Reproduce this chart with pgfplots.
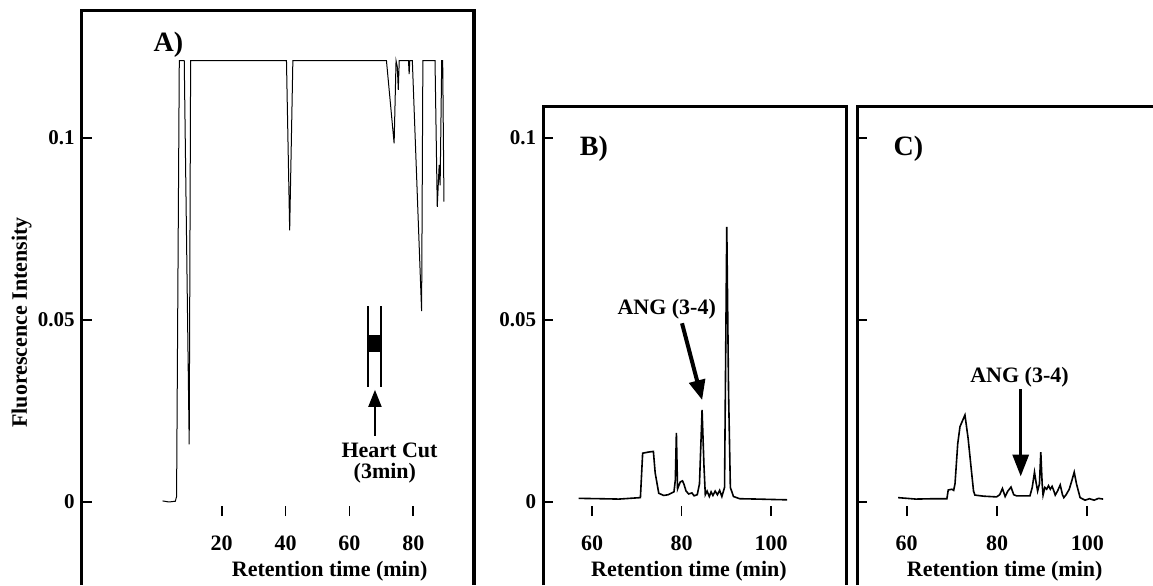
\documentclass[border=0pt]{standalone}
\usepackage{fontspec}
\setmainfont{Liberation Serif}
\usepackage{pgfplots}
\pgfplotsset{compat=1.18}
\usetikzlibrary{arrows.meta}

\tikzset{panelframe/.style={line width=1.65pt, black}}
\pgfplotsset{
  chrom/.style={
    scale only axis,
    anchor=north west,
    clip=false,
    axis line style={draw=none},
    tick align=inside,
    xtick pos=left, ytick pos=left,
    major tick length=5pt,
    ytick style={line width=1.3pt, black},
    xtick style={line width=0.9pt, black},
    ytick={0,0.05,0.1},
    yticklabels={0,0.05,0.1},
    yticklabel style={font=\fontsize{10.5}{12}\selectfont\bfseries},
    xticklabel style={font=\fontsize{11}{13}\selectfont\bfseries, anchor=base, yshift=-17pt},
    xlabel style={font=\fontsize{11}{13}\selectfont\bfseries, anchor=base},
    ylabel style={font=\fontsize{11}{13}\selectfont\bfseries, anchor=center},
    scaled y ticks=false,
    ymin=-0.00385,
  },
}

\begin{document}
\begin{tikzpicture}
\useasboundingbox (0pt,0pt) rectangle (576.5pt,-292.5pt);

% ---------------- Panel A ----------------
\begin{axis}[chrom,
  at={(40.85pt,-5.25pt)},
  width=196.15pt, height=252.75pt,
  xmin=-23.8, xmax=99.0, ymax=0.1350,
  xtick={20,40,60,80}, xticklabels={20,40,60,80},
  xlabel={Retention time (min)},
  xlabel style={at={(rel axis cs:0.632,-0.1187)}},
  ylabel={Fluorescence Intensity},
  ylabel style={at={(rel axis cs:-0.153,0.3828)}},
]
\addplot[line width=0.5pt, black] coordinates {
(1.5,0.0003)(3.5,0.0)(5.5,0.0002)(5.9,0.0015)(6.75,0.1212)(8.3,0.1212)
(9.85,0.0158)(10.3,0.1212)(40.3,0.1212)(41.3,0.0746)(42.3,0.1212)
(71.6,0.1212)(74.0,0.0985)(74.6,0.1212)(75.0,0.1195)(75.3,0.1132)(75.6,0.1212)
(78.5,0.1212)(78.7,0.1175)(78.9,0.1212)(79.7,0.1212)(82.6,0.0524)(83.0,0.1212)
(86.8,0.1212)(87.5,0.0811)(88.1,0.0926)(88.4,0.0870)(88.9,0.1212)(89.2,0.1212)(89.6,0.0825)
};
\draw[panelframe] (rel axis cs:0,-0.1365) -- (rel axis cs:0,1) -- (rel axis cs:1,1) -- (rel axis cs:1,-0.1365);
\node[anchor=base west, inner sep=0pt, font=\fontsize{14}{16}\selectfont\bfseries] at (axis cs:-1.4,0.1237) {A)};
% heart cut marker
\draw[line width=1pt] (axis cs:65.7,0.0316) -- (axis cs:65.7,0.0538);
\draw[line width=1pt] (axis cs:69.9,0.0316) -- (axis cs:69.9,0.0538);
\fill[black] (axis cs:65.7,0.0413) rectangle (axis cs:69.9,0.0459);
\draw[line width=1pt, -{Triangle[width=6.5pt,length=8.5pt]}] (axis cs:68.0,0.0182) -- (axis cs:68.0,0.0308);
\node[anchor=base, inner sep=0pt, font=\fontsize{11}{13}\selectfont\bfseries] at (axis cs:72.55,0.01230) {Heart Cut};
\node[anchor=base, inner sep=0pt, font=\fontsize{11}{13}\selectfont\bfseries] at (axis cs:71.1,0.00640) {(3min)};
\end{axis}

% ---------------- Panel B ----------------
\begin{axis}[chrom,
  at={(271.65pt,-53.35pt)},
  width=151.7pt, height=204.65pt,
  xmin=49.1, xmax=116.9, ymax=0.1086,
  xtick={60,80,100}, xticklabels={60,80,100},
  xlabel={Retention time (min)},
  xlabel style={at={(rel axis cs:0.480,-0.1466)}},
]
\addplot[line width=0.8pt, black] coordinates {
(57.0,0.0010)(62,0.0009)(66,0.0008)(70.8,0.0012)(71.3,0.0134)(72.5,0.0137)(73.7,0.0139)
(74.1,0.0080)(74.9,0.0024)(76,0.0018)(77.0,0.0020)(78.3,0.0028)(78.6,0.0060)(78.84,0.0190)
(79.1,0.0036)(79.7,0.0055)(80.2,0.0058)(80.5,0.0050)(81.0,0.0030)(81.6,0.0022)(82.3,0.0025)
(82.8,0.0017)(83.5,0.0020)(84.0,0.0050)(84.58,0.0253)(85.0,0.0100)(85.3,0.0020)(85.7,0.0030)
(86.2,0.0015)(86.6,0.0028)(87.0,0.0018)(87.5,0.0030)(88.0,0.0020)(88.5,0.0032)(89.0,0.0015)
(89.6,0.0040)(90.1,0.0756)(90.5,0.0300)(90.9,0.0040)(91.6,0.0015)(93,0.0009)(97,0.0008)
(100,0.0007)(103.6,0.0006)
};
\draw[panelframe] (rel axis cs:0,-0.1686) -- (rel axis cs:0,1) -- (rel axis cs:1,1) -- (rel axis cs:1,-0.1686);
\node[anchor=base west, inner sep=0pt, font=\fontsize{14}{16}\selectfont\bfseries] at (axis cs:57.2,0.0953) {B)};
\node[anchor=base west, inner sep=0pt, font=\fontsize{11}{13}\selectfont\bfseries] at (axis cs:65.6,0.0514) {ANG (3-4)};
\draw[line width=2pt, -{Triangle[width=8pt,length=10pt]}] (axis cs:80.1,0.0491) -- (axis cs:84.6,0.0280);
\end{axis}

% ---------------- Panel C ----------------
\begin{axis}[chrom,
  at={(428.65pt,-53.35pt)},
  width=147.85pt, height=204.65pt,
  xmin=49.06, xmax=114.55, ymax=0.1086,
  yticklabels={,,},
  xtick={60,80,100}, xticklabels={60,80,100},
  xlabel={Retention time (min)},
  xlabel style={at={(rel axis cs:0.4985,-0.1466)}},
]
\addplot[line width=0.8pt, black] coordinates {
(58.1,0.0012)(62,0.0008)(66,0.0009)(68.9,0.0009)(69.2,0.0033)(70.0,0.0035)(70.4,0.0032)
(70.7,0.0050)(71.3,0.0160)(71.8,0.0207)(72.9,0.0239)(73.6,0.0175)(74.3,0.0090)(74.8,0.0030)
(75.1,0.0019)(77,0.0016)(79.9,0.0014)(80.6,0.0020)(81.2,0.0037)(81.8,0.0015)(82.4,0.0030)
(83.1,0.0041)(83.7,0.0020)(84.3,0.0017)(87.3,0.0017)(87.8,0.0040)(88.3,0.0082)(88.7,0.0050)
(89.0,0.0030)(89.4,0.0050)(89.7,0.0137)(90.0,0.0050)(90.2,0.0019)(90.6,0.0040)(91.0,0.0035)
(91.4,0.0045)(91.8,0.0035)(92.2,0.0043)(92.6,0.0030)(92.9,0.0019)(93.4,0.0030)(94.0,0.0047)
(94.5,0.0020)(94.8,0.0012)(95.3,0.0020)(96.0,0.0035)(96.6,0.0060)(97.1,0.0082)(97.6,0.0050)
(98.4,0.0012)(99.5,0.0005)(100.5,0.0009)(101.5,0.0005)(102.5,0.0010)(103.5,0.0008)
};
\draw[panelframe] (rel axis cs:0,-0.1686) -- (rel axis cs:0,1) -- (rel axis cs:1,1);
\node[anchor=base west, inner sep=0pt, font=\fontsize{14}{16}\selectfont\bfseries] at (axis cs:57.0,0.0953) {C)};
\node[anchor=base west, inner sep=0pt, font=\fontsize{11}{13}\selectfont\bfseries] at (axis cs:74.0,0.0327) {ANG (3-4)};
\draw[line width=1.7pt, -{Triangle[width=8pt,length=11pt]}] (axis cs:85.25,0.0310) -- (axis cs:85.25,0.0070);
\end{axis}
\end{tikzpicture}
\end{document}
